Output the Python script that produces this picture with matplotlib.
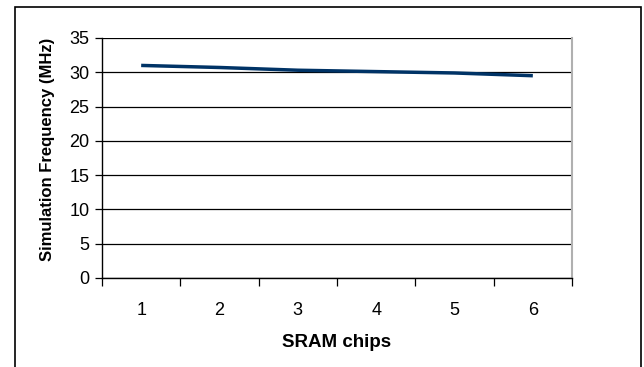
import matplotlib.pyplot as plt
from matplotlib.patches import Rectangle

# data
sram_chips = [1, 2, 3, 4, 5, 6]
freq_mhz = [31.0, 30.7, 30.3, 30.1, 29.9, 29.5]
y_ticks = [0, 5, 10, 15, 20, 25, 30, 35]

plt.rcParams['font.family'] = ['Liberation Sans', 'DejaVu Sans']

fig = plt.figure(figsize=(6.44, 3.67), dpi=100)
W, H = 644, 367
# plot area in pixels: left 102, right 572, top 38, bottom 278
ax = fig.add_axes([102 / W, 1 - 278 / H, (572 - 102) / W, (278 - 38) / H])

# outer chart frame
fig.patches.append(Rectangle((15 / W, -0.05), (641 - 15) / W, 1.05 - 7 / H,
                             transform=fig.transFigure, fill=False,
                             edgecolor='black', linewidth=1.2))

ax.plot(sram_chips, freq_mhz, color='#003366', linewidth=2.5,
        solid_capstyle='butt', zorder=3)

ax.set_xlim(0.5, 6.5)
ax.set_ylim(0, 35)
ax.set_yticks(y_ticks)
ax.set_xticks(sram_chips)
ax.set_xticks([0.5 + i for i in range(7)], minor=True)

ax.grid(axis='y', color='black', linewidth=0.9)
ax.set_axisbelow(True)

ax.tick_params(axis='y', direction='out', length=5, width=0.9, pad=4, labelsize=13)
ax.tick_params(axis='x', which='major', length=0, pad=17.5, labelsize=13)
ax.tick_params(axis='x', which='minor', direction='out', length=6, width=0.9)

for side in ['left', 'bottom']:
    ax.spines[side].set_color('black')
    ax.spines[side].set_linewidth(1.0)
ax.spines['right'].set_color('#b0b0b0')
ax.spines['right'].set_linewidth(1.5)
ax.spines['top'].set_visible(False)

ax.set_xlabel('SRAM chips', fontsize=13.5, fontweight='bold', labelpad=10.5)
ax.set_ylabel('Simulation Frequency (MHz)', fontsize=12, fontweight='bold')
ax.yaxis.set_label_coords(-0.100, 0.5375)

fig.savefig('out.png', dpi=100)
